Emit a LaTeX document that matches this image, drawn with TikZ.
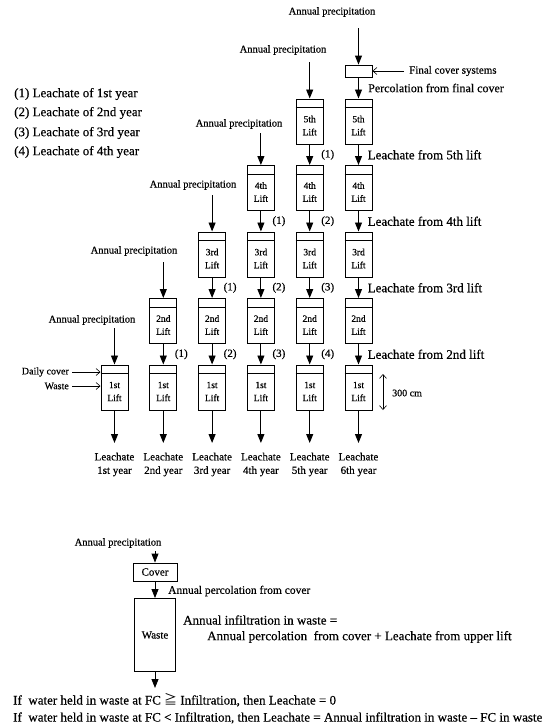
\documentclass[tikz,border=0pt]{standalone}
\usepackage{fontspec}
\setmainfont[FakeBold=0.4]{Liberation Serif}
\newfontfamily\cjkfont{Noto Sans CJK JP}
\usetikzlibrary{arrows.meta,calc}
\begin{document}
\begin{tikzpicture}[x=1pt,y=-1pt,
  arr/.style={-{Triangle[width=7pt,length=9pt]}, line width=0.9pt},
  varr/.style={-{Straight Barb[width=7pt,length=4pt]}, line width=0.6pt},
  liftbox/.style={draw, line width=1pt, minimum width=27pt, minimum height=45pt, inner sep=0pt},
  lifttext/.style={font=\fontsize{9.5}{13}\selectfont, align=center, inner sep=0pt},
  lbl/.style={font=\fontsize{11}{13.5}\selectfont, inner sep=0pt},
  biglbl/.style={font=\fontsize{13}{15}\selectfont, inner sep=0pt},
  midlbl/.style={font=\fontsize{12}{14}\selectfont, inner sep=0pt},
  aplbl/.style={font=\fontsize{11.5}{14}\selectfont, inner sep=0pt},
  precip/.style={font=\fontsize{10.5}{12}\selectfont, inner sep=0pt},
  small/.style={font=\fontsize{10}{12}\selectfont, inner sep=0pt},
]
\useasboundingbox (0,0) rectangle (550,726);
% lift boxes
\foreach \c/\x in {1/114.5,2/163.3,3/212.1,4/260.9,5/309.7,6/358.5}{
  \foreach \r/\ord in {1/1st,2/2nd,3/3rd,4/4th,5/5th}{
    \ifnum\r>\c\relax\else
      \pgfmathsetmacro\ty{365-66.5*(\r-1)}
      \node[liftbox] (L\c\r) at (\x,{\ty+22.5}) {};
      \draw[line width=0.8pt] ([yshift=-9pt]L\c\r.north west) -- ([yshift=-9pt]L\c\r.north east);
      \node[lifttext] (T\c\r) at ([yshift=-4pt]L\c\r.center) {\ord\\Lift};
    \fi
  }
}
% arrows between lifts and labels
\foreach \c in {1,...,6}{
  \foreach \r/\rm/\ord in {2/1/2nd,3/2/3rd,4/3/4th,5/4/5th}{
    \ifnum\r>\c\relax\else
      \draw[arr] (L\c\r.south) -- (L\c\rm.north);
      \ifnum\c<6\relax
        \pgfmathtruncatemacro\k{\c-\r+1}
        \node[lbl] (N\c\r) at ($(L\c\r.south)!0.5!(L\c\rm.north)+(18,0)$) {(\k)};
      \else
        \node[biglbl, anchor=west] (R\r) at ($(L\c\r.south)!0.5!(L\c\rm.north)+(9,0)$) {Leachate from \ord\ lift};
      \fi
    \fi
  }
}
% bottom leachate
\foreach \c/\x/\yr in {1/114.5/1st,2/163.3/2nd,3/212.1/3rd,4/260.9/4th,5/309.7/5th,6/358.5/6th}{
  \coordinate (B\c) at (\x,443);
  \draw[arr] (L\c1.south) -- (B\c);
  \node[lbl, align=center] (Y\c) at (\x,464.5) {Leachate\\\yr\ year};
}
% precipitation
\node[precip] (P1) at (92,320) {Annual precipitation};
\coordinate (p1) at (114.5,328);
\draw[arr] (p1) -- (L11.north);
\node[precip] (P2) at (134,251) {Annual precipitation};
\coordinate (p2) at (163.3,262);
\draw[arr] (p2) -- (L22.north);
\node[precip] (P3) at (193,185) {Annual precipitation};
\coordinate (p3) at (212.1,195);
\draw[arr] (p3) -- (L33.north);
\node[precip] (P4) at (239,124) {Annual precipitation};
\coordinate (p4) at (260.9,133);
\draw[arr] (p4) -- (L44.north);
\node[precip] (P5) at (283,50) {Annual precipitation};
\coordinate (p5) at (309.7,62);
\draw[arr] (p5) -- (L55.north);
\node[precip] (P6) at (332,12) {Annual precipitation};
\coordinate (p6) at (358.5,28);
\node[draw, line width=0.9pt, minimum width=27pt, minimum height=12pt, inner sep=0pt] (FC) at (358.5,71) {};
\draw[arr] (p6) -- (FC.north);
\draw[arr] (FC.south) -- (L65.north);
\node[midlbl, anchor=west] (PF) at (368,88) {Percolation from final cover};
\node[small, anchor=west, font=\fontsize{11}{12}\selectfont] (FCS) at (409,71) {Final cover systems};
\draw[varr] ([xshift=-5pt]FCS.west) -- (FC.east);
% legend
\node[biglbl, anchor=west] (G1) at (14,94) {(1) Leachate of 1st year};
\node[biglbl, anchor=west] (G2) at (14,113) {(2) Leachate of 2nd year};
\node[biglbl, anchor=west] (G3) at (14,133) {(3) Leachate of 3rd year};
\node[biglbl, anchor=west] (G4) at (14,152) {(4) Leachate of 4th year};
% daily cover / waste
\node[small, anchor=east] (DC) at (69,372) {Daily cover};
\draw[varr] ([xshift=3pt]DC.east) -- (DC.east -| L11.west);
\node[small, anchor=east] (WS) at (69,386) {Waste};
\draw[varr] ([xshift=3pt]WS.east) -- (WS.east -| L11.west);
% 300 cm
\coordinate (D1) at (383,374);
\coordinate (D2) at (383,410);
\draw[line width=0.6pt, {Straight Barb[width=7pt,length=4pt]}-{Straight Barb[width=7pt,length=4pt]}] (D1) -- (D2);
\node[small, anchor=west] (CM) at (392,393) {300 cm};
% bottom section
\node[precip] (PB) at (118,543) {Annual precipitation};
\coordinate (pb) at (155,551);
\node[draw, line width=0.9pt, minimum width=44pt, minimum height=18pt, inner sep=0pt, font=\fontsize{11}{12}\selectfont] (CV) at (155,572) {Cover};
\draw[arr] (pb) -- (CV.north);
\node[draw, line width=0.9pt, minimum width=41pt, minimum height=73pt, inner sep=0pt, font=\fontsize{11}{12}\selectfont] (WB) at (155,635) {Waste};
\draw[arr] (CV.south) -- (WB.north);
\node[aplbl, anchor=west] (APC) at (168,591) {Annual percolation from cover};
\node[biglbl, anchor=west] (AI1) at (183,620) {Annual infiltration in waste =};
\node[biglbl, anchor=west] (AI2) at (207,637) {Annual percolation\ \ from cover + Leachate from upper lift};
\coordinate (wb) at (155,688);
\draw[arr] (WB.south) -- (wb);
\node[biglbl, anchor=west] (IF1) at (13,700) {If\ \ water held in waste at FC {\cjkfont ≧} Infiltration, then Leachate = 0};
\node[biglbl, anchor=west] (IF2) at (13,718) {If\ \ water held in waste at FC < Infiltration, then Leachate = Annual infiltration in waste -- FC in waste};
\end{tikzpicture}
\end{document}
